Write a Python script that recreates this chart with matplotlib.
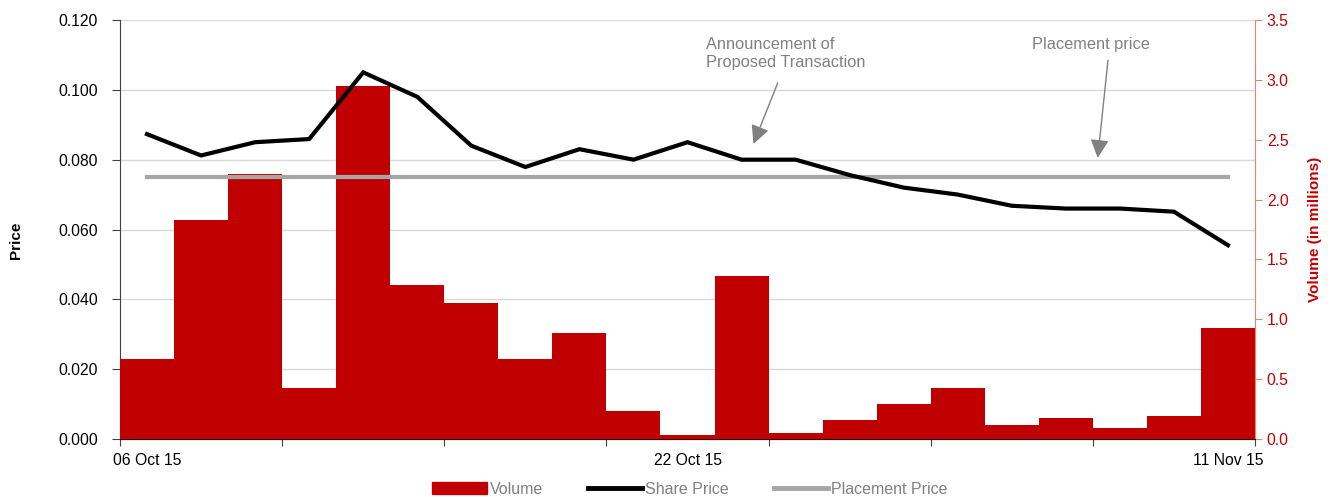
import matplotlib
matplotlib.use('Agg')
import matplotlib.pyplot as plt
import matplotlib.patches as mpatches
import matplotlib.lines as mlines

plt.rcParams['font.family'] = ['Liberation Sans', 'DejaVu Sans']

# Data
dates = ['06 Oct 15', '07 Oct 15', '08 Oct 15', '09 Oct 15', '12 Oct 15', '13 Oct 15',
         '14 Oct 15', '15 Oct 15', '19 Oct 15', '21 Oct 15', '22 Oct 15', '23 Oct 15',
         '26 Oct 15', '28 Oct 15', '29 Oct 15', '30 Oct 15', '02 Nov 15', '04 Nov 15',
         '05 Nov 15', '09 Nov 15', '11 Nov 15']
volume = [0.67, 1.83, 2.21, 0.43, 2.95, 1.29, 1.14, 0.67, 0.885, 0.234, 0.033,
          1.36, 0.05, 0.16, 0.29, 0.43, 0.117, 0.175, 0.092, 0.19, 0.93]
share_price = [0.0873, 0.0812, 0.0850, 0.0859, 0.1050, 0.0980, 0.0840, 0.0779,
               0.0830, 0.0800, 0.0850, 0.0800, 0.0800, 0.0756, 0.0720, 0.0700,
               0.0668, 0.0660, 0.0660, 0.0651, 0.0555]
placement = 0.075
labelled = ['06 Oct 15', '22 Oct 15', '11 Nov 15']

RED = '#C00000'
GREY_TXT = '#808080'
x = list(range(len(dates)))

fig = plt.figure(figsize=(13.31, 4.97), dpi=100)
ax = fig.add_axes([120 / 1331, 1 - 439 / 497, 1135 / 1331, 419 / 497])
ax2 = ax.twinx()

# Price axis (left) - holds the grid
ax.set_ylim(0, 0.12)
ax.set_yticks([0, 0.02, 0.04, 0.06, 0.08, 0.10, 0.12])
ax.set_yticklabels(['%.3f' % v for v in ax.get_yticks()])
ax.grid(axis='y', color='#D9D9D9', lw=1)
ax.set_axisbelow(True)
ax.set_xlim(-0.5, len(dates) - 0.5)
ax.set_xticks([i - 0.5 for i in range(0, len(dates) + 1, 3)])
ax.set_xticklabels([])
ax.set_xticks([dates.index(d) for d in labelled], minor=True)
ax.set_xticklabels(labelled, minor=True)
ax.tick_params(axis='x', which='major', length=5, color='#404040')
ax.tick_params(axis='x', which='minor', length=0, labelsize=11.3, pad=10)
ax.tick_params(axis='y', length=6, labelsize=11.3, color='#404040', pad=10)
ax.set_ylabel('Price', fontsize=11, fontweight='bold')
ax.yaxis.set_label_coords(-0.0855, 0.475)
for s in ['top', 'right']:
    ax.spines[s].set_visible(False)
ax.spines['left'].set_color('#404040')
ax.spines['bottom'].set_color('#404040')

# Volume axis (right) - bars
ax2.bar(x, volume, width=1.0, color=RED, zorder=2)
ax2.set_ylim(0, 3.5)
ax2.set_yticks([0, 0.5, 1, 1.5, 2, 2.5, 3, 3.5])
ax2.set_yticklabels(['%.1f' % v for v in ax2.get_yticks()])
ax2.tick_params(axis='y', length=5, labelsize=11.3, colors=RED, color='#E8876F')
ax2.set_ylabel('Volume (in millions)', fontsize=11, fontweight='bold', color=RED)
ax2.yaxis.set_label_coords(1.0466, 0.5)
ax2.spines['top'].set_visible(False)
ax2.spines['left'].set_visible(False)
ax2.spines['right'].set_color('#E8876F')
ax2.spines['bottom'].set_color('#3A0000')

# Lines drawn over the bars, in price units
ax2.plot(x, [placement] * len(x), color='#A6A6A6', lw=3, transform=ax.transData, zorder=3)
ax2.plot(x, share_price, color='black', lw=3, transform=ax.transData, zorder=4,
         solid_joinstyle='miter')

# Annotations
ax2.text(10.35, 0.1150, 'Announcement of\nProposed Transaction', transform=ax.transData,
         fontsize=11.8, color=GREY_TXT, va='top', ha='left', linespacing=1.2)
ax2.annotate('', xy=(11.22, 0.0845), xycoords=ax.transData,
             xytext=(11.67, 0.102), textcoords=ax.transData,
             arrowprops=dict(arrowstyle='-|>', color=GREY_TXT, lw=1, mutation_scale=28,
                             shrinkA=0, shrinkB=0))
ax2.text(17.46, 0.1131, 'Placement price', transform=ax.transData,
         fontsize=11.8, color=GREY_TXT, va='center', ha='center')
ax2.annotate('', xy=(17.59, 0.0805), xycoords=ax.transData,
             xytext=(17.78, 0.1085), textcoords=ax.transData,
             arrowprops=dict(arrowstyle='-|>', color=GREY_TXT, lw=1, mutation_scale=28,
                             shrinkA=0, shrinkB=0))

# Legend
handles = [mpatches.Patch(color=RED, label='Volume'),
           mlines.Line2D([], [], color='black', lw=3.5, label='Share Price'),
           mlines.Line2D([], [], color='#A6A6A6', lw=3.5, label='Placement Price')]
leg = fig.legend(handles=handles, loc='center', bbox_to_anchor=(690 / 1331, 1 - 489 / 497),
                 ncol=3, frameon=False, fontsize=11.5, handlelength=3.4,
                 columnspacing=2.8, handletextpad=0.2)
for t in leg.get_texts():
    t.set_color(GREY_TXT)

fig.savefig('out.png', dpi=100)
